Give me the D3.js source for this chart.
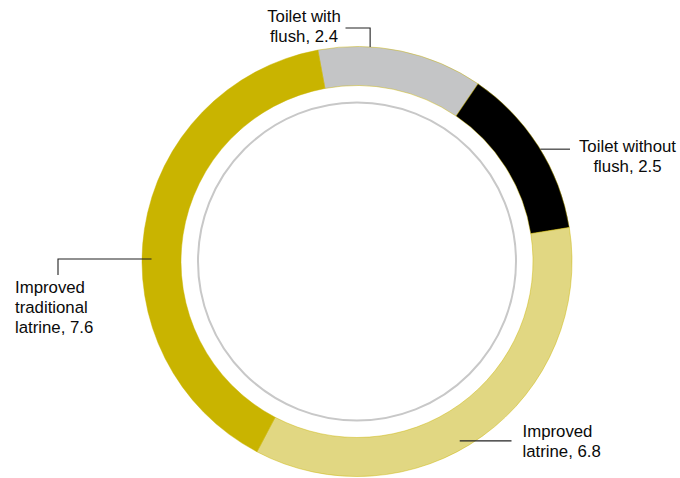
<!DOCTYPE html>
<html>
<head>
<meta charset="utf-8">
<script src="https://cdn.jsdelivr.net/npm/d3@7"></script>
<style>
  html, body { margin: 0; padding: 0; background: #fff; }
  svg { display: block; }
  text { font-family: "Liberation Sans", Arial, sans-serif; font-size: 16.8px; fill: #0a0a0a; }
</style>
</head>
<body>
<svg id="chart" width="680" height="478"></svg>
<script>
// Sanitation facilities, share by type
const categories = ["Toilet with flush", "Toilet without flush", "Improved latrine", "Improved traditional latrine"];
const values = [2.4, 2.5, 6.8, 7.6];
const labelLines = [
  ["Toilet with", "flush, 2.4"],
  ["Toilet without", "flush, 2.5"],
  ["Improved", "latrine, 6.8"],
  ["Improved", "traditional", "latrine, 7.6"]
];
const colors = ["#c4c5c6", "#000000", "#e1d782", "#c9b400"];

const width = 680, height = 478;
const cx = 357, cy = 261.5;
const outerR = 215, innerR = 176, ringR = 159;
const startDeg = -10.5;

const svg = d3.select("#chart");
const g = svg.append("g").attr("transform", `translate(${cx},${cy})`);

const color = d3.scaleOrdinal().domain(categories).range(colors);

const pie = d3.pie()
  .value(d => d.value)
  .sort(null)
  .startAngle(startDeg * Math.PI / 180)
  .endAngle((startDeg + 360) * Math.PI / 180);

const data = categories.map((c, i) => ({ category: c, value: values[i], lines: labelLines[i] }));
const arcs = pie(data);

const arc = d3.arc().innerRadius(innerR).outerRadius(outerR);

// thin grey inner circle
g.append("circle")
  .attr("r", ringR)
  .attr("fill", "none")
  .attr("stroke", "#c8c8c8")
  .attr("stroke-width", 2);

// donut slices
g.selectAll("path.slice")
  .data(arcs)
  .join("path")
  .attr("class", "slice")
  .attr("d", arc)
  .attr("fill", d => color(d.data.category))
  .attr("stroke", "#c9b400")
  .attr("stroke-width", 0.45);

// leader lines and labels (polar anchor on ring, then elbow/label placement)
const polar = (deg, r) => {
  const a = deg * Math.PI / 180;
  return [r * Math.sin(a), -r * Math.cos(a)];
};

const callouts = [
  { anchor: polar(3.5, outerR), pts: p => [p, [p[0], -233.5], [-11.5, -233.5]],
    text: { x: -53, y: -240, anchor: "middle", lines: arcs[0].data.lines } },
  { anchor: polar(58.5, outerR), pts: p => [p, [213, p[1]]],
    text: { x: 270.5, y: -110, anchor: "middle", lines: arcs[1].data.lines } },
  { anchor: polar(150.2, 206.7), pts: p => [p, [154.5, p[1]]],
    text: { x: 165.5, y: 175.5, anchor: "start", lines: arcs[2].data.lines } },
  { anchor: polar(270.7, 205.5), pts: p => [p, [-299, p[1]], [-299, 13.5]],
    text: { x: -342, y: 31, anchor: "start", lines: arcs[3].data.lines } }
];

const line = d3.line();
callouts.forEach(c => {
  g.append("path")
    .attr("d", line(c.pts(c.anchor)))
    .attr("fill", "none")
    .attr("stroke", "#222")
    .attr("stroke-width", 1.1);
  const t = g.append("text")
    .attr("text-anchor", c.text.anchor)
    .attr("x", c.text.x)
    .attr("y", c.text.y);
  c.text.lines.forEach((s, i) => {
    t.append("tspan")
      .attr("x", c.text.x)
      .attr("dy", i === 0 ? 0 : 20.3)
      .text(s);
  });
});
</script>
</body>
</html>
